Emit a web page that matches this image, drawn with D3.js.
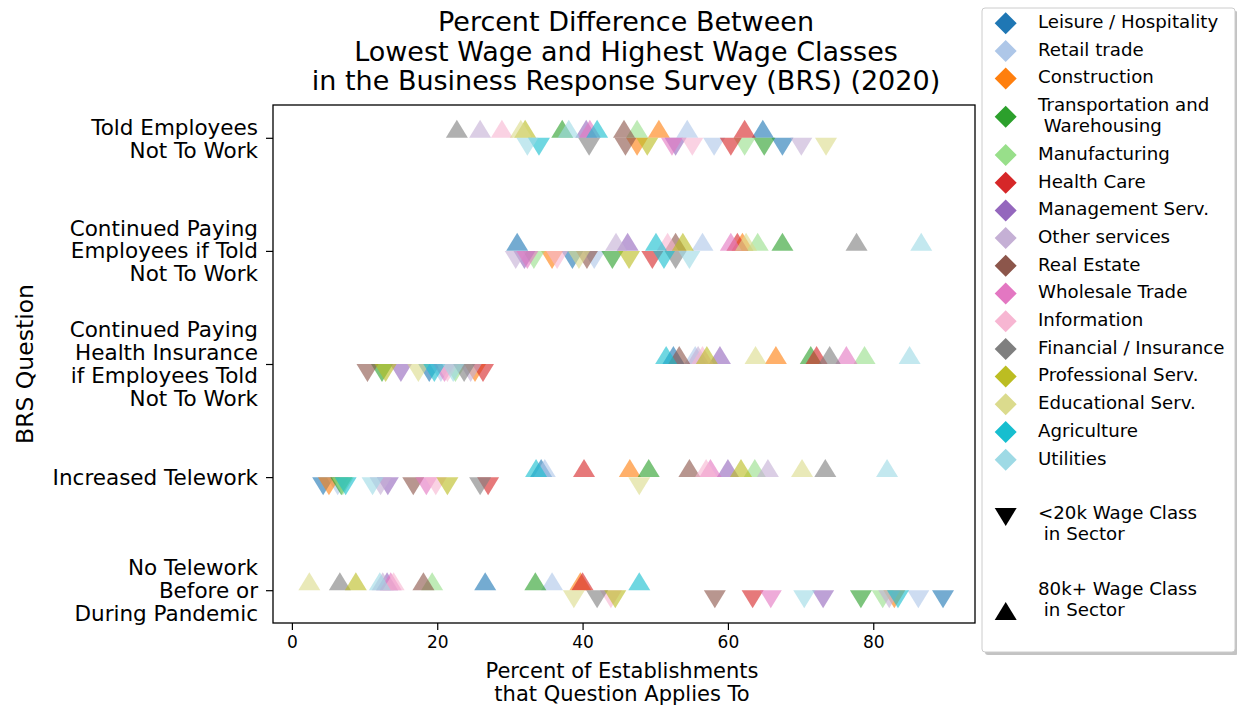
<!DOCTYPE html>
<html lang="en">
  <head>
    <meta charset="utf-8">
    <title>BRS wage classes</title>
    <script src="https://d3js.org/d3.v7.min.js"></script>
    <style>
      body { margin: 0; background: #fff; }
      svg text { font-family: "DejaVu Sans", sans-serif; fill: #000; }
    </style>
  </head>
  <body>
    <div id="chart"></div>
    <script>
      "use strict"
      // sectors, in legend order
      var sectors = ["Leisure / Hospitality", "Retail trade", "Construction", "Transportation and\n Warehousing",
        "Manufacturing", "Health Care", "Management Serv.", "Other services", "Real Estate", "Wholesale Trade",
        "Information", "Financial / Insurance", "Professional Serv.", "Educational Serv.", "Agriculture", "Utilities"];
      var sectorColors = ["#1f77b4", "#aec7e8", "#ff7f0e", "#2ca02c", "#98df8a", "#d62728", "#9467bd", "#c5b0d5",
        "#8c564b", "#e377c2", "#f7b6d2", "#7f7f7f", "#bcbd22", "#dbdb8d", "#17becf", "#9edae5"];
      var questions = ["Told Employees\nNot To Work", "Continued Paying\nEmployees if Told\nNot To Work",
        "Continued Paying\nHealth Insurance\nif Employees Told\nNot To Work", "Increased Telework",
        "No Telework\nBefore or\nDuring Pandemic"];
      var xTicks = [0, 20, 40, 60, 80];

      // percent of establishments, one array per question, values in sector order
      // <20k wage class
      var low = [
        [67.5, 58.1, 47.5, 65.0, 62.3, 60.4, 52.8, 70.1, 45.9, 52.3, 55.1, 40.9, 48.9, 73.5, 34.0, 32.4],
        [38.6, 41.6, 35.8, 44.1, 33.3, 49.6, 32.0, 30.8, 40.6, 32.4, 36.5, 52.8, 46.4, 39.5, 51.2, 54.7],
        [18.9, 20.5, 25.2, 12.4, 22.5, 26.3, 15.0, 24.6, 10.4, 21.0, 21.4, 23.7, 12.9, 17.4, 19.6, 22.2],
        [4.3, 6.3, 5.1, 6.8, 7.0, 27.0, 13.2, 12.2, 16.7, 18.5, 19.8, 25.9, 21.4, 47.8, 7.4, 11.1],
        [89.6, 86.2, 82.9, 78.3, 81.3, 63.4, 73.1, 82.2, 58.2, 65.9, 43.9, 42.0, 44.5, 38.8, 83.4, 70.5]
      ];
      // 80k+ wage class
      var high = [
        [64.8, 54.4, 50.5, 37.2, 47.5, 62.3, 40.5, 25.9, 45.7, 41.0, 28.9, 22.7, 32.1, 31.5, 42.0, 38.1],
        [31.0, 56.5, 62.0, 67.5, 64.1, 61.3, 46.2, 44.6, 52.8, 60.4, 51.7, 77.7, 53.8, 62.5, 50.1, 86.6],
        [52.5, 55.5, 66.6, 71.4, 78.8, 72.2, 58.9, 55.9, 53.3, 76.3, 56.5, 74.0, 57.1, 63.8, 51.5, 85.0],
        [34.3, 34.8, 46.5, 49.1, 63.7, 40.2, 60.0, 65.5, 54.7, 57.6, 57.0, 73.4, 61.8, 70.2, 33.6, 81.9],
        [26.6, 35.8, 39.7, 33.5, 19.3, 40.0, 13.1, 12.5, 18.1, 13.6, 14.0, 6.6, 8.8, 2.4, 47.8, 12.1]
      ];
      var wageLabels = ["<20k Wage Class\n in Sector", "80k+ Wage Class\n in Sector"];

      var larguraSVG = 1237, alturaSVG = 710;
      var svg = d3.select("#chart").append("svg")
          .attr("width", larguraSVG)
          .attr("height", alturaSVG);

      var plot = {left: 273, right: 975, top: 105, bottom: 623};
      var x = d3.scaleLinear().domain([-2.6, 94]).range([plot.left, plot.right]);
      var y = d3.scaleLinear().domain([-0.29, 4.29]).range([plot.top, plot.bottom]);

      // triangle centred on its bounding box
      function tri(w, h, up) {
        var s = up ? 1 : -1;
        return "M0," + (-s * h / 2) + "L" + (w / 2) + "," + (s * h / 2) + "L" + (-w / 2) + "," + (s * h / 2) + "Z";
      }
      function diamond(r) {
        return "M0," + (-r) + "L" + r + ",0L0," + r + "L" + (-r) + ",0Z";
      }

      // marks, drawn sector by sector like the original
      var pts = [];
      sectors.forEach(function(s, j) {
        questions.forEach(function(q, i) {
          pts.push({q: i, v: low[i][j], up: false, c: sectorColors[j]});
        });
        questions.forEach(function(q, i) {
          pts.push({q: i, v: high[i][j], up: true, c: sectorColors[j]});
        });
      });
      svg.append("g").selectAll("path")
        .data(pts)
        .enter().append("path")
          .attr("d", d => tri(22, 18, d.up))
          .attr("transform", d => "translate(" + x(d.v) + "," + y(d.q + (d.up ? -0.08 : 0.08)) + ")")
          .attr("fill", d => d.c)
          .attr("fill-opacity", 0.62);

      // axes
      var xAxis = svg.append("g")
          .attr("transform", "translate(0," + plot.bottom + ")")
          .call(d3.axisBottom(x).tickValues(xTicks).tickSize(7).tickPadding(6));
      xAxis.select(".domain").remove();
      xAxis.selectAll("text").style("font-size", "17px");
      xAxis.selectAll("line").attr("stroke", "#000").attr("stroke-width", 1.2);

      var yAxis = svg.append("g")
          .attr("transform", "translate(" + plot.left + ",0)")
          .call(d3.axisLeft(y).tickValues(d3.range(questions.length)).tickSize(7).tickFormat(""));
      yAxis.select(".domain").remove();
      yAxis.selectAll("line").attr("stroke", "#000").attr("stroke-width", 1.2);

      // multi-line question labels
      var lh = 22.8;
      questions.forEach(function(q, i) {
        var lines = q.split("\n");
        var t = svg.append("text")
            .attr("text-anchor", "end")
            .style("font-size", "21.5px");
        var y0 = y(i) - (lines.length - 1) * lh / 2;
        if (lines.length === 2) y0 = y(i) - 10;
        lines.forEach(function(l, k) {
          t.append("tspan").attr("x", 258).attr("y", y0 + k * lh).attr("dy", "0.35em").text(l);
        });
      });

      svg.append("rect")
          .attr("x", plot.left).attr("y", plot.top)
          .attr("width", plot.right - plot.left).attr("height", plot.bottom - plot.top)
          .attr("fill", "none").attr("stroke", "#000").attr("stroke-width", 1.3);

      // titles
      var title = svg.append("text").attr("text-anchor", "middle").style("font-size", "27px");
      ["Percent Difference Between", "Lowest Wage and Highest Wage Classes",
       "in the Business Response Survey (BRS) (2020)"].forEach(function(l, k) {
        title.append("tspan").attr("x", 626).attr("y", 22 + k * 29.5).attr("dy", "0.35em").text(l);
      });
      var xl = svg.append("text").attr("text-anchor", "middle").style("font-size", "21px");
      ["Percent of Establishments", "that Question Applies To"].forEach(function(l, k) {
        xl.append("tspan").attr("x", 622).attr("y", 670.5 + k * 23).attr("dy", "0.35em").text(l);
      });
      svg.append("text")
          .attr("transform", "translate(25," + (plot.top + plot.bottom) / 2 + ") rotate(-90)")
          .attr("text-anchor", "middle").attr("dy", "0.35em")
          .style("font-size", "23.5px")
          .text("BRS Question");

      // legend
      var leg = svg.append("g");
      leg.append("rect").attr("x", 985).attr("y", 11).attr("width", 253).attr("height", 644)
          .attr("fill", "#888").attr("fill-opacity", 0.5).attr("rx", 3);
      leg.append("rect").attr("x", 982).attr("y", 8).attr("width", 253).attr("height", 644)
          .attr("fill", "#fff").attr("stroke", "#ccc").attr("stroke-width", 1).attr("rx", 3);
      var ly = 21.7, rowH = 27.7, subH = 21;
      var items = sectors.map(function(s, j) { return {label: s, color: sectorColors[j], kind: "d"}; });
      items.forEach(function(it) {
        var lines = it.label.split("\n");
        var top = ly;
        var t = leg.append("text").style("font-size", "18.2px").attr("xml:space", "preserve");
        lines.forEach(function(l, k) {
          t.append("tspan").attr("x", 1038).attr("y", top + k * subH).attr("dy", "0.35em").text(l);
        });
        leg.append("path").attr("d", diamond(11))
          .attr("transform", "translate(1005.7," + (top + (lines.length - 1) * subH / 2 + 1.5) + ")")
          .attr("fill", it.color);
        ly = top + (lines.length - 1) * subH + rowH;
      });
      // wage class markers
      var wageY = [ly + 27, ly + 103];
      wageLabels.forEach(function(w, k) {
        var lines = w.split("\n");
        var t = leg.append("text").style("font-size", "18.2px").attr("xml:space", "preserve");
        lines.forEach(function(l, m) {
          t.append("tspan").attr("x", 1038).attr("y", wageY[k] + m * subH).attr("dy", "0.35em").text(l);
        });
        leg.append("path").attr("d", tri(22, 18, k === 1))
          .attr("transform", "translate(1005.7," + (wageY[k] + (k === 1 ? subH + 1 : 4)) + ")")
          .attr("fill", "#000");
      });
    </script>
  </body>
</html>
